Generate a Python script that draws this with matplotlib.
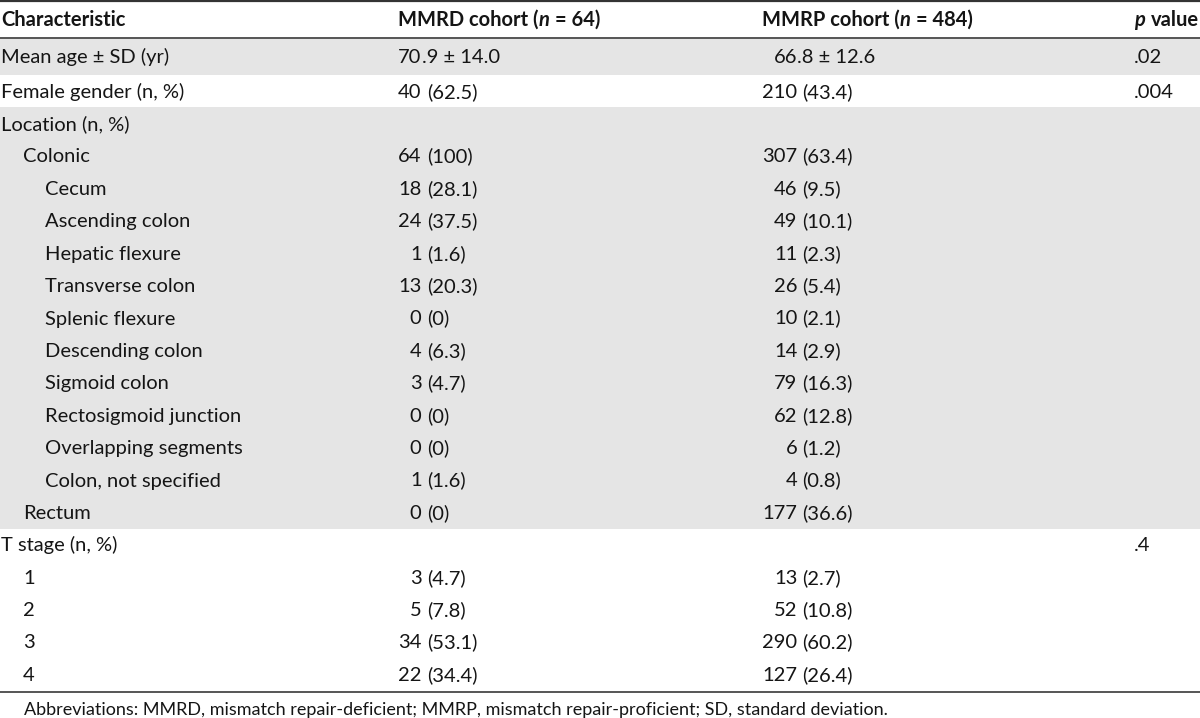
import re
import matplotlib
matplotlib.use('Agg')
import matplotlib.pyplot as plt
from matplotlib.patches import Rectangle

# table content
labels = ['Mean age \u00b1 SD (yr)', 'Female gender (n, %)', 'Location (n, %)', 'Colonic', 'Cecum',
          'Ascending colon', 'Hepatic flexure', 'Transverse colon', 'Splenic flexure', 'Descending colon',
          'Sigmoid colon', 'Rectosigmoid junction', 'Overlapping segments', 'Colon, not specified', 'Rectum',
          'T stage (n, %)', '1', '2', '3', '4']
indent = [0, 0, 0, 1, 2, 2, 2, 2, 2, 2, 2, 2, 2, 2, 1, 0, 1, 1, 1, 1]
mmrd = ['70.9 \u00b1 14.0', '40 (62.5)', '', '64 (100)', '18 (28.1)', '24 (37.5)', '1 (1.6)', '13 (20.3)',
        '0 (0)', '4 (6.3)', '3 (4.7)', '0 (0)', '0 (0)', '1 (1.6)', '0 (0)', '', '3 (4.7)', '5 (7.8)',
        '34 (53.1)', '22 (34.4)']
mmrp = ['66.8 \u00b1 12.6', '210 (43.4)', '', '307 (63.4)', '46 (9.5)', '49 (10.1)', '11 (2.3)', '26 (5.4)',
        '10 (2.1)', '14 (2.9)', '79 (16.3)', '62 (12.8)', '6 (1.2)', '4 (0.8)', '177 (36.6)', '', '13 (2.7)',
        '52 (10.8)', '290 (60.2)', '127 (26.4)']
pvals = ['.02', '.004', '', '', '', '', '', '', '', '', '', '', '', '', '', '.4', '', '', '', '']
shaded = [1, 0, 1, 1, 1, 1, 1, 1, 1, 1, 1, 1, 1, 1, 1, 0, 0, 0, 0, 0]
headers = [
    [('Characteristic', 'bold', 'normal')],
    [('MMRD cohort (', 'bold', 'normal'), ('n', 'bold', 'italic'), (' = 64)', 'bold', 'normal')],
    [('MMRP cohort (', 'bold', 'normal'), ('n', 'bold', 'italic'), (' = 484)', 'bold', 'normal')],
    [('p', 'bold', 'italic'), (' value', 'bold', 'normal')],
]
footnote = ('Abbreviations: MMRD, mismatch repair-deficient; MMRP, mismatch repair-proficient; '
            'SD, standard deviation.')

FONT = 'Lato'
FS = 14.5
TXT = '#151515'
SHADE = '#e5e5e5'
VA = 'baseline'
BL = 6.5  # baseline offset below the row middle

fig = plt.figure(figsize=(12, 7.18), dpi=100)
ax = fig.add_axes([0, 0, 1, 1])
ax.set_xlim(0, 1200)
ax.set_ylim(718, 0)
ax.axis('off')
r = fig.canvas.get_renderer()


def width(t):
    return t.get_window_extent(renderer=r).width


def measure(s, **kw):
    t = ax.text(0, 300, s, fontsize=FS, family=FONT, **kw)
    w = width(t)
    t.remove()
    return w


col_x = [1, 398, 762, 1134]
ind_w = 22
head_bot = 38
row0_bot = 75
row_h = 32.4

tops = [head_bot] + [row0_bot + i * row_h for i in range(len(labels) - 1)]
bots = [row0_bot + i * row_h for i in range(len(labels))]

for i in range(len(labels)):
    if shaded[i]:
        ax.add_patch(Rectangle((0, tops[i]), 1200, bots[i] - tops[i], color=SHADE, lw=0, zorder=0))

ax.plot([0, 1200], [1, 1], color='#333333', lw=1.6, zorder=3)
ax.plot([0, 1200], [head_bot, head_bot], color='#555555', lw=1.4, zorder=3)
ax.plot([0, 1200], [bots[-1] + 1.5, bots[-1] + 1.5], color='#555555', lw=1.4, zorder=3)

# header, pieces laid next to each other
sp = measure('a a', weight='bold') - measure('aa', weight='bold')
for cx, pieces in zip(col_x, headers):
    x = cx
    for s, w, st in pieces:
        x += (len(s) - len(s.lstrip(' '))) * sp
        t = ax.text(x, 19 + BL, s.strip(' '), fontsize=FS, family=FONT, weight=w, style=st,
                    ha='left', va=VA, color=TXT)
        x += width(t) + (len(s) - len(s.rstrip(' '))) * sp
        if st == 'italic':
            x += 1

# digit tab stops for the two cohort columns
dig = measure('0000') / 4
sp_n = measure('0 0') - measure('00')


def draw_value(s, cx, ndig, y):
    m = re.match(r'^(\d+)( ?)(.*)$', s)
    if not m:
        return
    tab = cx + ndig * dig
    ax.text(tab, y, m.group(1), fontsize=FS, family=FONT, ha='right', va=VA, color=TXT)
    ax.text(tab + len(m.group(2)) * sp_n, y, m.group(3), fontsize=FS, family=FONT,
            ha='left', va=VA, color=TXT)


for i in range(len(labels)):
    y = (tops[i] + bots[i]) / 2 + BL
    ax.text(col_x[0] + indent[i] * ind_w, y, labels[i], fontsize=FS, family=FONT,
            ha='left', va=VA, color=TXT)
    draw_value(mmrd[i], col_x[1], 2, y)
    draw_value(mmrp[i], col_x[2], 3, y)
    if pvals[i]:
        ax.text(col_x[3], y, pvals[i], fontsize=FS, family=FONT, ha='left', va=VA, color=TXT)

ax.text(24, 715, footnote, fontsize=13, family=FONT, ha='left', va=VA, color=TXT)

fig.savefig('out.png', dpi=100)
